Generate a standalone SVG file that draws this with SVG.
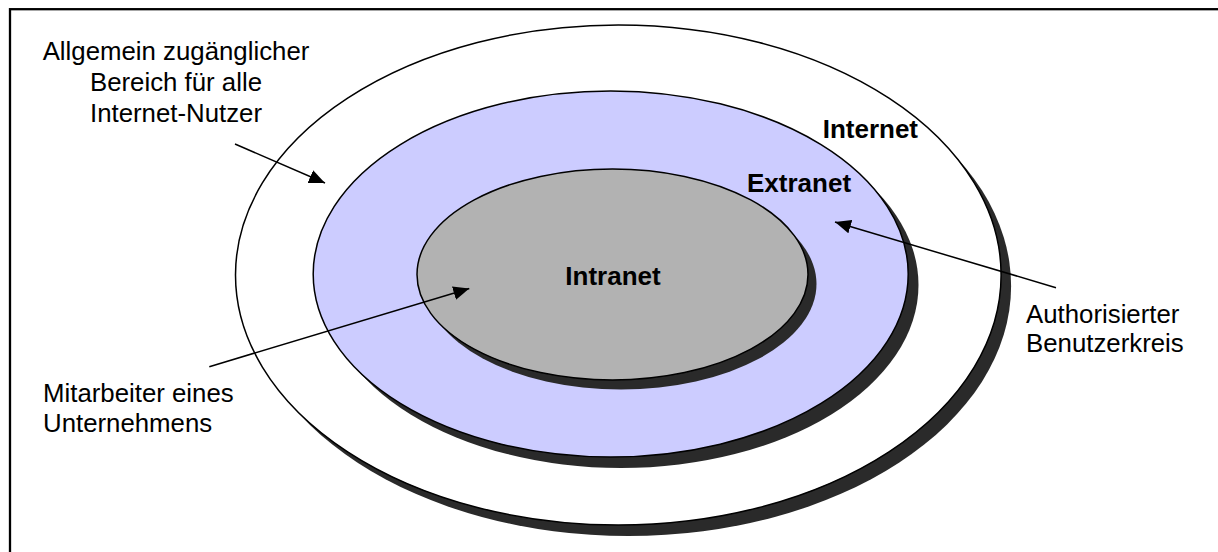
<svg xmlns="http://www.w3.org/2000/svg" width="1218" height="552" viewBox="0 0 1218 552">
  <defs>
    <marker id="arrowhead" viewBox="0 0 16 14" refX="16" refY="7" markerWidth="16" markerHeight="14" markerUnits="userSpaceOnUse" orient="auto">
      <path d="M0,0 L16,7 L0,14 Z" fill="#000"/>
    </marker>
    <style>
      .frame { fill: #fff; stroke: #000; stroke-width: 2.3; }
      .shadow { fill: #2a2a2a; stroke: none; }
      .ring { stroke: #000; stroke-width: 1.5; }
      .label { font-family: "Liberation Sans", Arial, sans-serif; font-size: 25.8px; fill: #000; }
      .title { font-family: "Liberation Sans", Arial, sans-serif; font-size: 26px; font-weight: bold; fill: #000; }
      .arrow { stroke: #000; stroke-width: 1.5; fill: none; marker-end: url(#arrowhead); }
    </style>
  </defs>

  <rect class="frame" x="10" y="9.2" width="1260" height="600"/>

  <!-- Internet: outermost zone -->
  <g id="internet">
    <ellipse class="shadow" cx="628.3" cy="286" rx="382.8" ry="250"/>
    <ellipse class="ring" fill="#fff" cx="618.3" cy="275" rx="382.8" ry="250"/>
    <text class="title" x="822.7" y="138">Internet</text>
  </g>

  <!-- Extranet: authorised users -->
  <g id="extranet">
    <ellipse class="shadow" cx="621" cy="285" rx="297.5" ry="183"/>
    <ellipse class="ring" fill="#ccccff" cx="610.7" cy="274" rx="297.5" ry="183"/>
    <text class="title" x="747" y="192">Extranet</text>
  </g>

  <!-- Intranet: company staff -->
  <g id="intranet">
    <ellipse class="shadow" cx="621" cy="284" rx="195.5" ry="105.5"/>
    <ellipse class="ring" fill="#b2b2b2" cx="612.5" cy="274.5" rx="195.5" ry="105.5"/>
    <text class="title" x="613" y="285" text-anchor="middle">Intranet</text>
  </g>

  <!-- Annotations -->
  <g id="note-public">
    <text class="label" x="176" y="60" text-anchor="middle">Allgemein zugänglicher</text>
    <text class="label" x="176" y="91" text-anchor="middle">Bereich für alle</text>
    <text class="label" x="176" y="122" text-anchor="middle">Internet-Nutzer</text>
  </g>
  <g id="note-staff">
    <text class="label" x="43" y="401.7">Mitarbeiter eines</text>
    <text class="label" x="43" y="431.7">Unternehmens</text>
  </g>
  <g id="note-authorised">
    <text class="label" x="1026" y="322.7">Authorisierter</text>
    <text class="label" x="1026" y="351.7">Benutzerkreis</text>
  </g>

  <!-- Connectors -->
  <g id="connectors">
    <line class="arrow" x1="235" y1="144" x2="325" y2="183"/>
    <line class="arrow" x1="209.3" y1="366.7" x2="469.3" y2="288.5"/>
    <line class="arrow" x1="1056" y1="287.7" x2="835" y2="222"/>
  </g>
</svg>
